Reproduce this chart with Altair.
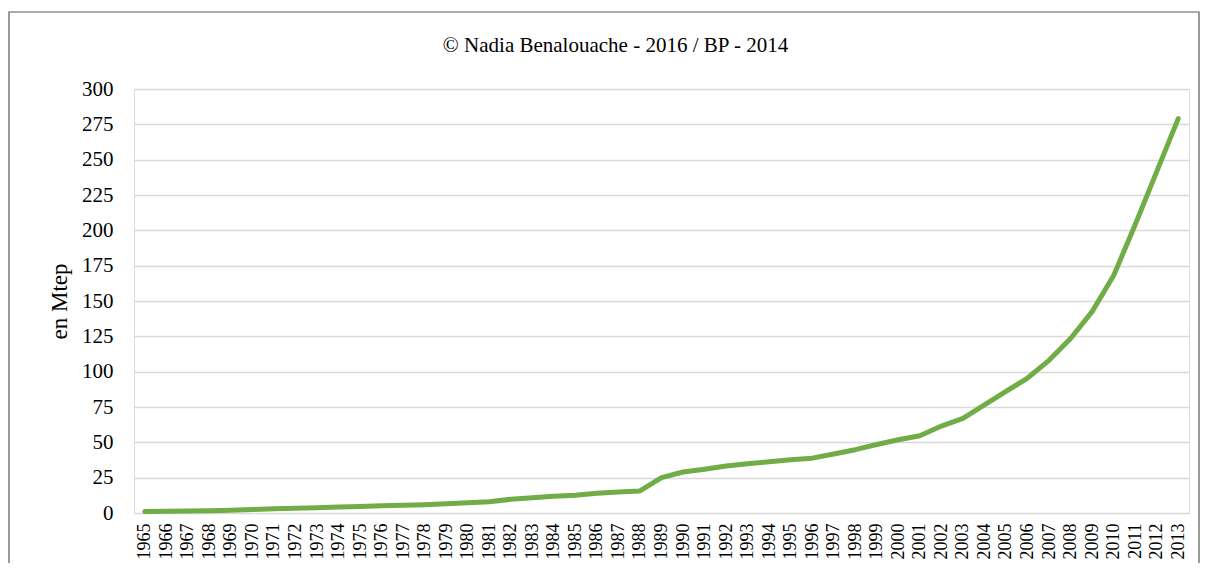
import altair as alt
import pandas as pd

years = list(range(1965, 2014))
values = [
    1.0, 1.3, 1.5, 1.6, 1.9, 2.5, 3.0, 3.3, 3.7, 4.2,
    4.6, 5.1, 5.4, 5.8, 6.5, 7.3, 7.9, 9.7, 10.8, 11.8,
    12.6, 13.9, 14.9, 15.6, 25.0, 29.0, 31.0, 33.3, 34.8, 36.2,
    37.6, 38.8, 41.8, 44.8, 48.5, 51.8, 54.6, 61.5, 67.0, 76.5,
    86.0, 95.5, 108.0, 123.5, 142.5, 168.0, 204.0, 241.5, 279.0,
]
y_ticks = list(range(0, 301, 25))
title_text = "© Nadia Benalouache - 2016 / BP - 2014"
y_title = "en Mtep"

df = pd.DataFrame({"year": [str(y) for y in years], "value": values})

FONT = "Liberation Serif"

line = alt.Chart(df).mark_line(
    color="#70AD47", strokeWidth=5, strokeCap="round", strokeJoin="round"
).encode(
    x=alt.X(
        "year:O",
        scale=alt.Scale(type="point", padding=0.5),
        axis=alt.Axis(
            title=None, labelAngle=270, labelFontSize=18, labelFont=FONT,
            labelColor="#000000", labelPadding=10, ticks=False, domain=False,
            grid=False,
        ),
    ),
    y=alt.Y(
        "value:Q",
        scale=alt.Scale(domain=[0, 300], nice=False),
        axis=alt.Axis(
            values=y_ticks, title=y_title, titleFont=FONT, titleFontSize=23,
            titleFontWeight="normal", titleColor="#000000",
            titleAngle=270, titleX=-75, titleY=212, titleAlign="center",
            titleBaseline="middle",
            labelFont=FONT, labelFontSize=21, labelColor="#000000",
            labelPadding=21, ticks=False, domain=False,
            grid=True, gridColor="#D9D9D9", gridWidth=1.5,
        ),
    ),
)

border = alt.Chart(pd.DataFrame({"a": [0]})).mark_rect(
    fill="transparent", stroke="#595959", strokeWidth=1.2
).encode(
    x=alt.value(-125), x2=alt.value(1065), y=alt.value(-77), y2=alt.value(620)
)

chart = alt.layer(border, line).properties(
    width=1055,
    height=424,
    autosize=alt.AutoSizeParams(type="none"),
    padding={"left": 126, "top": 81, "right": 11, "bottom": 50},
    title=alt.TitleParams(
        text=title_text, font=FONT, fontSize=21, fontWeight="normal",
        color="#000000", anchor="middle", dx=-46, offset=-62,
        baseline="alphabetic",
    ),
).configure_view(fill="#F2F2F2", strokeWidth=0).configure(background="#FFFFFF")

chart.save("out.html", embed_options={"renderer": "svg", "actions": False})
